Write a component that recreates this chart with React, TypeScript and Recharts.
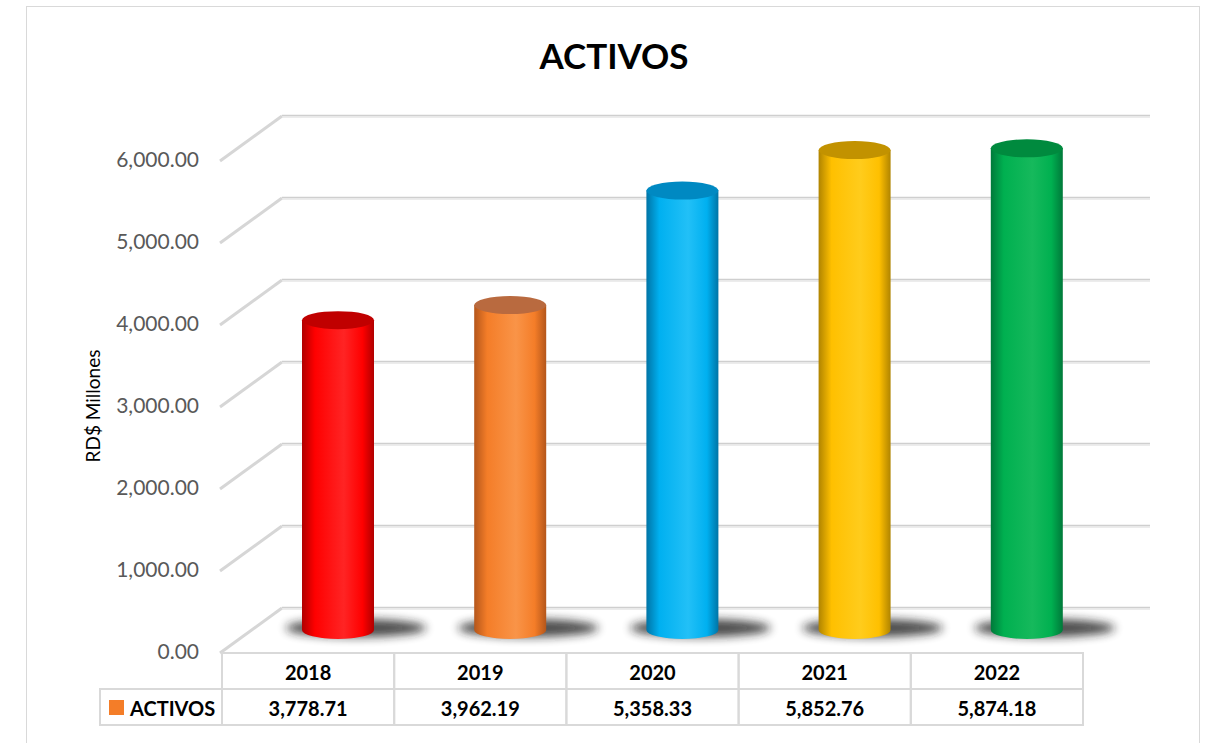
import { BarChart, Bar, XAxis, YAxis, CartesianGrid } from "recharts";

const YEARS = ["2018", "2019", "2020", "2021", "2022"];
const ACTIVOS = [3778.71, 3962.19, 5358.33, 5852.76, 5874.18];
const Y_TICKS = [0, 1000, 2000, 3000, 4000, 5000, 6000];

// colores de cada cilindro: base, borde oscuro, brillo, tapa
const PALETTE = [
  { base: "#ff0000", dark: "#b00000", light: "#ff2424", top: "#c00000" },
  { base: "#f47d28", dark: "#b4561b", light: "#f99448", top: "#b96a3f" },
  { base: "#00b0f0", dark: "#0074a6", light: "#22c0f7", top: "#0089c2" },
  { base: "#ffc000", dark: "#b08400", light: "#ffcc1c", top: "#c29200" },
  { base: "#00b050", dark: "#00793a", light: "#16b95c", top: "#008a3e" },
];

const W = 1206;
const H = 743;
const M_TOP = 160;
const M_RIGHT = 123;
const Y_W = 222;
const X_H = 72;
const M_BOTTOM = H - 652 - X_H;
const BAND = (W - Y_W - M_RIGHT) / YEARS.length;
// profundidad 3D (pared del fondo)
const DEPTH_X = 60;
const DEPTH_Y = -44;
const RY = 9;

const FONT = "Lato, 'Open Sans', sans-serif";

const data = YEARS.map((year, i) => ({ year, value: ACTIVOS[i] }));

const fmt = (v: number) =>
  v.toLocaleString("en-US", { minimumFractionDigits: 2, maximumFractionDigits: 2 });

function Cylinder(props: any) {
  const { x, y, width, height, index } = props;
  const c = PALETTE[index];
  const dx = DEPTH_X / 2;
  const dy = DEPTH_Y / 2;
  const left = x + dx;
  const right = x + width + dx;
  const cx = left + width / 2;
  const rx = width / 2;
  const topY = y + dy;
  const botY = y + height + dy;
  return (
    <g>
      <defs>
        <linearGradient id={`body${index}`} x1="0" y1="0" x2="1" y2="0">
          <stop offset="0%" stopColor={c.dark} />
          <stop offset="18%" stopColor={c.base} />
          <stop offset="58%" stopColor={c.light} />
          <stop offset="84%" stopColor={c.base} />
          <stop offset="100%" stopColor={c.dark} />
        </linearGradient>
        <filter id={`blur${index}`} x="-50%" y="-200%" width="200%" height="500%">
          <feGaussianBlur stdDeviation="5" />
        </filter>
      </defs>
      <ellipse
        cx={cx + 18}
        cy={botY - 2}
        rx={70}
        ry={9}
        fill="#1a1a1a"
        opacity={0.8}
        filter={`url(#blur${index})`}
      />
      <path
        d={`M${left},${topY} L${left},${botY} A${rx},${RY} 0 0 0 ${right},${botY} L${right},${topY} Z`}
        fill={`url(#body${index})`}
      />
      <ellipse cx={cx} cy={topY} rx={rx} ry={RY} fill={c.top} />
    </g>
  );
}

function GridLine(props: any) {
  const { x1, x2, y1 } = props;
  const by = y1 + DEPTH_Y;
  return (
    <g>
      <line x1={x1 - 2} y1={y1 + 1} x2={x1 + DEPTH_X} y2={by} stroke="#d6d6d6" strokeWidth={3} />
      <line x1={x1 + DEPTH_X} y1={by - 0.5} x2={x2 + DEPTH_X + 7} y2={by - 0.5} stroke="#cfcfcf" strokeWidth={1.5} />
      <line x1={x1 + DEPTH_X} y1={by + 1} x2={x2 + DEPTH_X + 7} y2={by + 1} stroke="#e6e6e6" strokeWidth={1.5} />
    </g>
  );
}

function TableTick(props: any) {
  const { x, y, payload } = props;
  const i = payload.index;
  const left = x - BAND / 2;
  const rowH = 36;
  const textStyle = { fontFamily: FONT, fontWeight: 700, fontSize: 20, fill: "#000" };
  return (
    <g>
      <rect x={left} y={y + 1} width={BAND} height={rowH} fill="none" stroke="#d9d9d9" strokeWidth={2} />
      <rect x={left} y={y + 1 + rowH} width={BAND} height={rowH} fill="none" stroke="#d9d9d9" strokeWidth={2} />
      <text x={x} y={y + 20} textAnchor="middle" dominantBaseline="central" style={textStyle}>
        {payload.value}
      </text>
      <text x={x} y={y + 56} textAnchor="middle" dominantBaseline="central" style={textStyle}>
        {fmt(ACTIVOS[i])}
      </text>
      {i === 0 && (
        <g>
          <rect x={left - 122} y={y + 1 + rowH} width={122} height={rowH} fill="none" stroke="#d9d9d9" strokeWidth={2} />
          <rect x={left - 113} y={y + 48} width={15} height={15} fill="#f47d28" />
          <text x={left - 92} y={y + 56} dominantBaseline="central" style={textStyle}>
            ACTIVOS
          </text>
        </g>
      )}
    </g>
  );
}

export default function App() {
  return (
    <div style={{ position: "absolute", left: 0, top: 0, width: W, height: H, background: "#fff", overflow: "hidden" }}>
      <div
        style={{
          position: "absolute",
          left: 26,
          top: 6,
          width: 1172,
          height: 760,
          border: "1px solid #d9d9d9",
        }}
      />
      <div
        style={{
          position: "absolute",
          left: 0,
          width: 1228,
          top: 34,
          textAlign: "center",
          fontFamily: FONT,
          fontWeight: 700,
          fontSize: 35,
          color: "#000",
        }}
      >
        ACTIVOS
      </div>
      <div
        style={{
          position: "absolute",
          left: 92,
          top: 406,
          transform: "translate(-50%, -50%) rotate(-90deg)",
          whiteSpace: "nowrap",
          fontFamily: FONT,
          fontSize: 19,
          color: "#000",
        }}
      >
        RD$ Millones
      </div>
      <div style={{ position: "absolute", left: 0, top: 0 }}>
        <BarChart
          width={W}
          height={H}
          data={data}
          margin={{ top: M_TOP, right: M_RIGHT, bottom: M_BOTTOM, left: 0 }}
          barSize={72}
        >
          <CartesianGrid vertical={false} horizontal={(p: any) => <GridLine key={p.key} {...p} />} />
          <XAxis
            dataKey="year"
            height={X_H}
            axisLine={false}
            tickLine={false}
            tickSize={0}
            tickMargin={0}
            interval={0}
            tick={<TableTick />}
          />
          <YAxis
            width={Y_W}
            domain={[0, 6000]}
            ticks={Y_TICKS}
            axisLine={false}
            tickLine={false}
            tickMargin={17}
            tickFormatter={fmt}
            tick={{ fill: "#595959", fontSize: 21, fontFamily: FONT }}
          />
          <Bar dataKey="value" isAnimationActive={false} shape={<Cylinder />} />
        </BarChart>
      </div>
    </div>
  );
}
